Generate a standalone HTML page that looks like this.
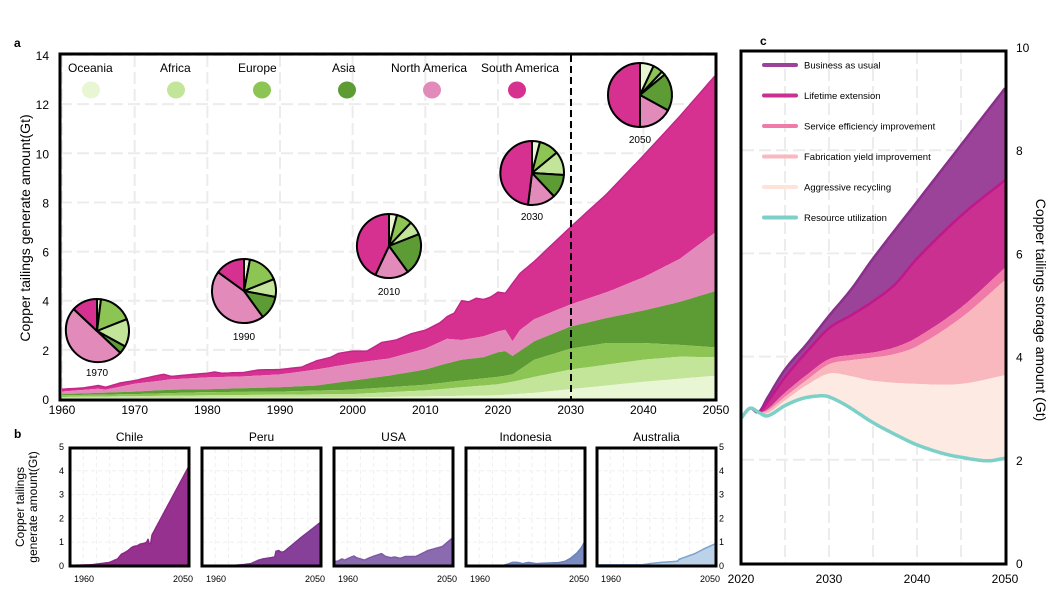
<!DOCTYPE html>
<html><head><meta charset="utf-8"><style>
html,body{margin:0;padding:0;background:#fff;}
svg{display:block;font-family:"Liberation Sans",Arial,sans-serif;}
</style></head><body>
<svg id="s" width="1053" height="594" viewBox="0 0 1053 594" xmlns="http://www.w3.org/2000/svg"></svg>
<script>
const S=document.getElementById('s');let h='';
function interp(pts,x){for(let i=0;i<pts.length-1;i++){if(x>=pts[i][0]&&x<=pts[i+1][0]){const t=(x-pts[i][0])/(pts[i+1][0]-pts[i][0]);return pts[i][1]+t*(pts[i+1][1]-pts[i][1]);}}return x<pts[0][0]?pts[0][1]:pts[pts.length-1][1];}
function cr(pts,x){const n=pts.length;for(let i=0;i<n-1;i++){if(x>=pts[i][0]&&x<=pts[i+1][0]){const p0=pts[Math.max(i-1,0)],p1=pts[i],p2=pts[i+1],p3=pts[Math.min(i+2,n-1)];const dx=p2[0]-p1[0],t=(x-p1[0])/dx;const m1=(p2[1]-p0[1])/(p2[0]-p0[0])*dx,m2=(p3[1]-p1[1])/(p3[0]-p1[0])*dx;const t2=t*t,t3=t2*t;return (2*t3-3*t2+1)*p1[1]+(t3-2*t2+t)*m1+(-2*t3+3*t2)*p2[1]+(t3-t2)*m2;}}return x<pts[0][0]?pts[0][1]:pts[n-1][1];}
function area(top,bot,x0,x1,fx,fy,fill,step){step=step||0.5;let a=[],b=[];for(let x=x0;x<=x1+1e-9;x+=step){a.push(fx(x).toFixed(1)+','+fy(top(x)).toFixed(1));b.unshift(fx(x).toFixed(1)+','+fy(bot(x)).toFixed(1));}return `<polygon points="${a.join(' ')} ${b.join(' ')}" fill="${fill}"/>`;}
function line(f,x0,x1,fx,fy,col,w,step){step=step||0.5;let a=[];for(let x=x0;x<=x1+1e-9;x+=step)a.push(fx(x).toFixed(1)+','+fy(f(x)).toFixed(1));return `<polyline points="${a.join(' ')}" fill="none" stroke="${col}" stroke-width="${w}" stroke-linejoin="round"/>`;}
// ---------- Panel a
const ax=x=>62+(x-1960)*(716-62)/90, ay=v=>399-v*24.57;
for(let y=1960;y<=2050;y+=10)h+=`<line x1="${ax(y)}" y1="55" x2="${ax(y)}" y2="399" stroke="#ececec" stroke-width="2" stroke-dasharray="12,5"/>`;
for(let v=2;v<=14;v+=2)h+=`<line x1="60" y1="${ay(v)}" x2="716" y2="${ay(v)}" stroke="#ececec" stroke-width="2" stroke-dasharray="12,5"/>`;
const tot=[[1960,.4],[1963,.45],[1965,.55],[1966,.48],[1968,.65],[1970,.75],[1973,.95],[1974,1.0],[1975,.92],[1978,1.0],[1980,1.05],[1981,1.1],[1982,1.05],[1985,1.08],[1987,1.18],[1990,1.2],[1993,1.3],[1995,1.55],[1997,1.7],[1998,1.85],[2000,1.95],[2002,1.95],[2004,2.3],[2006,2.4],[2008,2.65],[2010,2.8],[2012,3.1],[2013,3.35],[2014,3.5],[2015,4.0],[2016,3.95],[2017,4.1],[2018,4.05],[2019,4.15],[2020,4.35],[2021,4.3],[2022,4.7],[2023,5.1],[2025,5.6],[2030,7.0],[2035,8.35],[2040,9.9],[2045,11.5],[2050,13.2]];
const na=[[1960,.3],[1965,.42],[1966,.38],[1970,.62],[1975,.8],[1980,.88],[1985,.92],[1990,1.0],[1995,1.2],[2000,1.45],[2005,1.65],[2010,2.05],[2013,2.45],[2015,2.4],[2018,2.55],[2020,2.75],[2021,2.82],[2022,2.35],[2023,2.8],[2025,3.25],[2030,3.85],[2035,4.35],[2040,4.95],[2045,5.7],[2050,6.8]];
const as=[[1960,.2],[1970,.3],[1975,.38],[1980,.4],[1990,.48],[1995,.55],[2000,.75],[2005,.95],[2010,1.2],[2013,1.45],[2015,1.6],[2018,1.7],[2020,1.9],[2021,1.95],[2022,1.75],[2025,2.35],[2030,2.95],[2035,3.3],[2040,3.6],[2045,3.95],[2050,4.4]];
const eu=[[1960,.15],[1970,.2],[1980,.28],[1990,.3],[2000,.38],[2010,.58],[2015,.75],[2020,.9],[2022,1.0],[2025,1.6],[2030,2.05],[2035,2.28],[2040,2.28],[2045,2.2],[2050,2.1]];
const af=[[1960,.08],[1980,.15],[2000,.2],[2010,.35],[2020,.6],[2022,.7],[2025,.9],[2030,1.2],[2040,1.6],[2045,1.72],[2050,1.7]];
const oc=[[1960,.03],[2000,.06],[2020,.15],[2025,.25],[2030,.4],[2040,.7],[2050,.95]];
const Z=x=>0,I=p=>x=>interp(p,x),C=p=>x=>cr(p,x);
h+=area(I(tot),I(na),1960,2050,ax,ay,'#d63190');
h+=area(I(na),I(as),1960,2050,ax,ay,'#e28bbb');
h+=area(I(as),I(eu),1960,2050,ax,ay,'#5d9b35');
h+=area(I(eu),I(af),1960,2050,ax,ay,'#8cc554');
h+=area(I(af),I(oc),1960,2050,ax,ay,'#c3e59a');
h+=area(I(oc),Z,1960,2050,ax,ay,'#e8f6d4');
h+=line(I(tot),1960,2050,ax,ay,'#c2268a',1.5);
h+=`<line x1="571" y1="55" x2="571" y2="399" stroke="#000" stroke-width="2" stroke-dasharray="7,4"/>`;
h+=`<rect x="60" y="54" width="656" height="346" fill="none" stroke="#000" stroke-width="3"/>`;
for(let v=0;v<=14;v+=2)h+=`<text x="49" y="${ay(v)+5}" font-size="12" text-anchor="end">${v}</text>`;
for(let y=1960;y<=2050;y+=10)h+=`<text x="${ax(y)}" y="414" font-size="12" text-anchor="middle">${y}</text>`;
h+=`<text x="14" y="47" font-size="12" font-weight="bold">a</text>`;
h+=`<text transform="translate(30,228) rotate(-90)" font-size="14" text-anchor="middle">Copper tailings generate amount(Gt)</text>`;
const cols=['#e8f6d4','#c3e59a','#8cc554','#5d9b35','#e28bbb','#d63190'];
const names=['Oceania','Africa','Europe','Asia','North America','South America'];
const lx=[68,160,238,332,391,481],cx=[91,176,262,347,432,517];
names.forEach((n,i)=>{h+=`<text x="${lx[i]}" y="72" font-size="12">${n}</text><ellipse cx="${cx[i]}" cy="90" rx="9" ry="8.5" fill="${cols[i]}"/>`;});
const pcol=['#e8f6d4','#8cc554','#c3e59a','#5d9b35','#e28bbb','#d63190'];
function pie(cx,cy,r,fr,lab,ly){let a=0;fr.forEach((f,i)=>{const a0=a,a1=a+f*2*Math.PI;a=a1;const x0=cx+r*Math.sin(a0),y0=cy-r*Math.cos(a0),x1=cx+r*Math.sin(a1),y1=cy-r*Math.cos(a1);h+=`<path d="M${cx},${cy} L${x0.toFixed(1)},${y0.toFixed(1)} A${r},${r} 0 ${a1-a0>Math.PI?1:0} 1 ${x1.toFixed(1)},${y1.toFixed(1)} Z" fill="${pcol[i]}" stroke="#000" stroke-width="2" stroke-linejoin="round"/>`;});h+=`<text x="${cx}" y="${ly}" font-size="10" text-anchor="middle">${lab}</text>`;}
pie(97,331,32,[.02,.17,.14,.04,.50,.13],'1970',376);
pie(244,291,32,[.03,.16,.09,.12,.45,.15],'1990',340);
pie(389,246,32,[.04,.08,.07,.21,.17,.43],'2010',295);
pie(532,173,32,[.04,.10,.12,.12,.14,.48],'2030',220);
pie(640,95,32,[.07,.05,.02,.19,.17,.50],'2050',143);
// ---------- Panel b
h+=`<text x="14" y="438" font-size="12" font-weight="bold">b</text>`;
h+=`<text transform="translate(24,507) rotate(-90)" font-size="12" text-anchor="middle">Copper tailings</text><text transform="translate(37,507) rotate(-90)" font-size="12" text-anchor="middle">generate amount(Gt)</text>`;
const bx=[70,202,334,466,597],bw=119;
const bdata=[
 ['Chile','#8e2686','#96318f',[[1960,.03],[1976,.05],[1990,.15],[1996,.3],[1999,.5],[2001,.55],[2004,.65],[2006,.75],[2008,.82],[2011,.85],[2013,.92],[2016,.95],[2018,1.0],[2019,1.12],[2020,.92],[2021,.95],[2022,1.3],[2035,2.65],[2050,4.2]]],
 ['Peru','#7c3590','#86409a',[[1960,0],[1975,0],[1990,.05],[1997,.1],[2003,.25],[2006,.3],[2012,.35],[2015,.38],[2016,.62],[2018,.65],[2020,.58],[2022,.6],[2035,1.2],[2050,1.85]]],
 ['USA','#7f5aa6','#8a6bb0',[[1960,.2],[1963,.2],[1966,.3],[1968,.25],[1972,.35],[1975,.42],[1977,.35],[1980,.3],[1983,.25],[1987,.35],[1992,.45],[1996,.52],[1999,.4],[2003,.35],[2006,.38],[2010,.32],[2014,.4],[2016,.4],[2019,.4],[2022,.4],[2031,.65],[2042,.82],[2050,1.2]]],
 ['Indonesia','#6a7fbb','#7b8cc0',[[1960,0],[1985,0],[1990,.05],[1995,.15],[1999,.15],[2003,.1],[2007,.15],[2013,.1],[2020,.12],[2030,.14],[2035,.2],[2039,.32],[2044,.55],[2047,.75],[2050,1.05]]],
 ['Australia','#7aa3cf','#bcd2e8',[[1960,.05],[1994,.05],[2000,.1],[2008,.15],[2021,.2],[2022,.28],[2034,.52],[2042,.75],[2050,.95]]]];
const by=v=>566-v*23.8;
bdata.forEach((d,i)=>{const x0=bx[i],fx=x=>x0+(x-1960)*bw/90;
 for(let y=1970;y<2050;y+=10)h+=`<line x1="${fx(y)}" y1="449" x2="${fx(y)}" y2="566" stroke="#efefef" stroke-width="1" stroke-dasharray="4,3"/>`;
 for(let v=1;v<5;v++)h+=`<line x1="${x0}" y1="${by(v)}" x2="${x0+bw}" y2="${by(v)}" stroke="#efefef" stroke-width="1" stroke-dasharray="4,3"/>`;
 h+=area(I(d[3]),Z,1960,2050,fx,by,d[2]);h+=line(I(d[3]),1960,2050,fx,by,d[1],1.5);
 h+=`<rect x="${x0}" y="448" width="${bw}" height="118" fill="none" stroke="#000" stroke-width="3"/>`;
 h+=`<text x="${x0+bw/2}" y="441" font-size="12" text-anchor="middle">${d[0]}</text>`;
 h+=`<text x="${x0+14}" y="582" font-size="9" text-anchor="middle">1960</text><text x="${x0+bw-6}" y="582" font-size="9" text-anchor="middle">2050</text>`;});
for(let v=0;v<=5;v++){h+=`<text x="64" y="${by(v)+3}" font-size="9" text-anchor="end">${v}</text><text x="719" y="${by(v)+3}" font-size="9">${v}</text>`;}
// ---------- Panel c
const cx2=x=>741+(x-2020)*(1005-741)/30, cy2=v=>563-v*51.6;
for(let y=2025;y<2050;y+=5)h+=`<line x1="${cx2(y)}" y1="52" x2="${cx2(y)}" y2="563" stroke="#ececec" stroke-width="2" stroke-dasharray="12,5"/>`;
for(let v=2;v<10;v+=2)h+=`<line x1="742" y1="${cy2(v)}" x2="1006" y2="${cy2(v)}" stroke="#ececec" stroke-width="2" stroke-dasharray="12,5"/>`;
const base=[[2020,2.8],[2021,3.0],[2022,2.92]];
const bau=base.concat([[2023,3.2],[2025,3.75],[2027.5,4.25],[2030,4.79],[2032.5,5.3],[2035,5.9],[2040,7.0],[2045,8.1],[2050,9.2]]);
const lif=base.concat([[2023,3.12],[2025,3.6],[2027.5,4.1],[2030,4.55],[2032.5,4.8],[2035,5.07],[2037.5,5.4],[2040,5.9],[2045,6.73],[2050,7.42]]);
const ser=base.concat([[2023,2.98],[2025,3.3],[2027.5,3.65],[2030,3.95],[2032.5,4.03],[2035,4.08],[2037.5,4.18],[2040,4.37],[2045,4.95],[2050,5.72]]);
const fab=base.concat([[2023,2.95],[2025,3.22],[2027.5,3.55],[2030,3.85],[2032.5,3.93],[2035,3.98],[2037.5,4.05],[2040,4.2],[2045,4.75],[2050,5.48]]);
const agg=base.concat([[2023,2.9],[2025,3.15],[2027.5,3.45],[2030,3.67],[2032.5,3.62],[2035,3.53],[2040,3.47],[2045,3.47],[2050,3.64]]);
const res=[[2020,2.8],[2021,3.0],[2022,2.92],[2023,2.85],[2025,3.05],[2027,3.19],[2029,3.24],[2030,3.22],[2032,3.05],[2035,2.72],[2038,2.45],[2040,2.29],[2043,2.12],[2045,2.05],[2048,1.98],[2050,2.03]];
h+=area(C(bau),C(lif),2020,2050,cx2,cy2,'#9b4399',0.25);
h+=area(C(lif),C(ser),2020,2050,cx2,cy2,'#c93090',0.25);
h+=area(C(ser),C(fab),2020,2050,cx2,cy2,'#f07aa8',0.25);
h+=area(C(fab),C(agg),2020,2050,cx2,cy2,'#f8b8be',0.25);
h+=area(C(agg),C(res),2020,2050,cx2,cy2,'#fdeae2',0.25);
h+=line(C(bau),2020,2050,cx2,cy2,'#8a2f8c',2.5,0.25);
h+=line(C(lif),2020,2050,cx2,cy2,'#c0188a',2.5,0.25);
h+=line(C(res),2020,2050,cx2,cy2,'#7dd0c8',3.5,0.25);
h+=`<rect x="741" y="51" width="265" height="513" fill="none" stroke="#000" stroke-width="3"/>`;
for(let v=0;v<=10;v+=2)h+=`<text x="1016" y="${cy2(v)+5}" font-size="12">${v}</text>`;
[2020,2030,2040,2050].forEach(y=>h+=`<text x="${cx2(y)}" y="583" font-size="12" text-anchor="middle">${y}</text>`);
h+=`<text x="760" y="45" font-size="12" font-weight="bold">c</text>`;
h+=`<text transform="translate(1036,310) rotate(90)" font-size="14" text-anchor="middle">Copper tailings storage amount (Gt)</text>`;
const lg=[['Business  as usual','#9b4399'],['Lifetime extension','#c9308f'],['Service efficiency improvement','#f07aa8'],['Fabrication yield improvement','#f8b8be'],['Aggressive recycling','#fde3da'],['Resource utilization','#7dd0c8']];
lg.forEach((l,i)=>{const y=65+i*30.5;h+=`<line x1="764" y1="${y}" x2="796" y2="${y}" stroke="${l[1]}" stroke-width="4" stroke-linecap="round"/><text x="804" y="${y+3.5}" font-size="9.5">${l[0]}</text>`;});
S.innerHTML=h;
</script>
</body></html>
